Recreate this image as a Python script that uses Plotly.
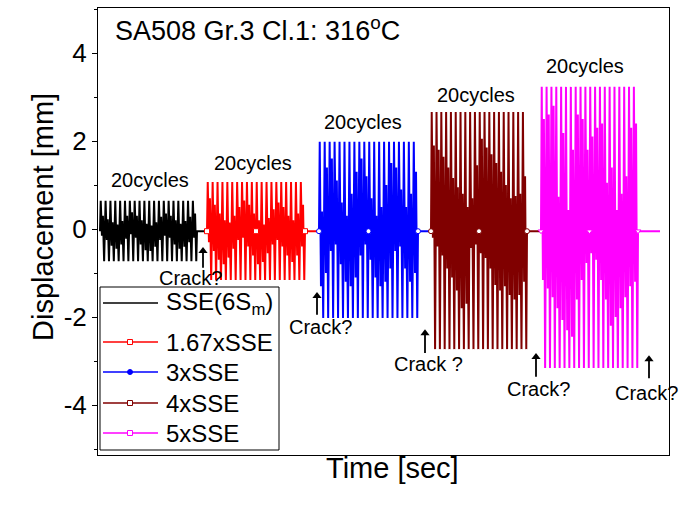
import plotly.graph_objects as go

# ---------------- data ----------------
series_names = ["SSE(6S<sub>m</sub>)", "1.67xSSE", "3xSSE", "4xSSE", "5xSSE"]
colors = ["#000000", "#FF0000", "#0000FF", "#800000", "#FF00FF"]
marker_symbols = [None, "square", "circle", "circle", "triangle-down"]

# block timing (arbitrary time units, x axis has no tick labels)
block_start = [2, 109, 221, 333, 443]
block_end = [99, 207, 320, 429, 540]
tail_end = [108, 220, 332, 442, 562]

peak_top = [0.64, 1.07, 1.98, 2.66, 3.23]
peak_bot = [-0.73, -1.16, -2.02, -2.73, -3.16]
zero_level = -0.05

black_hi = [0.30, 0.22, 0.15, 0.10, 0.18, 0.30, 0.38, 0.30, 0.20, 0.12, 0.08, 0.15, 0.28, 0.35, 0.30, 0.20, 0.12, 0.18, 0.28, 0.35]
black_lo = [0.15, 0.25, 0.38, 0.45, 0.35, 0.22, 0.12, 0.20, 0.35, 0.48, 0.50, 0.40, 0.25, 0.15, 0.20, 0.35, 0.45, 0.40, 0.30, 0.20]
red_hi = [0.70, 0.55, 0.35, 0.20, 0.15, 0.30, 0.50, 0.65, 0.55, 0.35, 0.20, 0.10, 0.25, 0.45, 0.60, 0.50, 0.30, 0.20, 0.35, 0.55]
red_lo = [0.30, 0.50, 0.70, 0.80, 0.65, 0.45, 0.25, 0.20, 0.40, 0.60, 0.80, 0.75, 0.55, 0.35, 0.25, 0.40, 0.60, 0.75, 0.60, 0.40]
blue_hi = [0.40, 1.40, 1.60, 1.10, 0.60, 0.30, 0.80, 1.30, 1.60, 1.20, 0.70, 0.30, 0.50, 1.00, 1.50, 1.40, 0.90, 0.50, 0.80, 1.30]
blue_lo = [1.30, 1.00, 0.50, 0.35, 0.80, 1.20, 1.30, 1.10, 0.60, 0.35, 0.70, 1.10, 1.30, 1.20, 0.90, 0.50, 0.40, 0.90, 1.20, 1.00]
brown_hi = [1.90, 1.80, 1.64, 1.40, 1.16, 0.95, 0.80, 0.50, 0.70, 1.45, 2.05, 1.85, 1.70, 1.50, 1.30, 1.00, 0.70, 0.75, 0.80, 1.20]
brown_lo = [0.20, 0.40, 0.60, 0.90, 1.10, 1.40, 1.80, 1.70, 0.43, 0.35, 0.55, 0.66, 0.90, 1.27, 1.40, 1.30, 1.50, 1.60, 1.50, 1.20]
magenta_hi = [2.50, 2.60, 2.80, 0.73, 2.18, 0.43, 1.80, 2.60, 2.50, 1.80, 2.10, 2.30, 2.40, 1.05, 1.40, 0.43, 0.80, 1.20, 2.30, 2.40]
magenta_lo = [1.16, 1.35, 1.55, 1.80, 2.07, 2.30, 2.45, 1.60, 1.16, 0.77, 0.55, 0.70, 1.16, 1.60, 2.20, 2.00, 1.80, 1.55, 1.30, 1.20]

inner_hi = [black_hi, red_hi, blue_hi, brown_hi, magenta_hi]
inner_lo = [black_lo, red_lo, blue_lo, brown_lo, magenta_lo]

y_ticks = [-4, -2, 0, 2, 4]
y_tick_labels = ["-4", "-2", "0", "2", "4"]

cycles_text = "20cycles"
cycles_x = [52, 155, 265, 378, 487]
cycles_y = [1.11, 1.50, 2.43, 3.05, 3.70]

crack_text = ["Crack?", "Crack?", "Crack ?", "Crack?", "Crack?"]
crack_label_x = [92, 222, 330.5, 440.5, 548.5]
crack_label_y = [-1.11, -2.23, -3.07, -3.64, -3.73]
crack_arrow_x = [105, 219, 327, 438, 551]
crack_arrow_head_y = [-0.43, -1.45, -2.30, -2.84, -2.89]
crack_arrow_tail_y = [-0.88, -1.95, -2.82, -3.36, -3.39]

title_text = "SA508 Gr.3 Cl.1: 316<sup>o</sup>C"

FONT = "Liberation Sans, Arial, sans-serif"

# ---------------- layout geometry ----------------
W, H = 681, 507
L, R, T, B = 98, 12, 8, 52
X0, X1 = 0, 571
Y0, Y1 = -226 / 44, 221 / 44


def px2x(px):
    return X0 + (px - L) / (W - L - R) * (X1 - X0)


def py2y(py):
    return Y1 - (py - T) / (H - T - B) * (Y1 - Y0)


fig = go.Figure()

# ---------------- waveforms ----------------
for k in range(5):
    hi, lo = inner_hi[k], inner_lo[k]
    n = len(hi)
    p = (block_end[k] - block_start[k]) / n
    t = [block_start[k]]
    y = [zero_level]
    mk_t = [block_start[k]]
    for i in range(n):
        t0 = block_start[k] + i * p
        if i == n // 2:
            t.append(t0)
            y.append(zero_level)
            mk_t.append(t0)
        t += [t0 + 0.15 * p, t0 + 0.4 * p, t0 + 0.6 * p, t0 + 0.85 * p]
        y += [peak_top[k], -lo[i], hi[i], peak_bot[k]]
    t += [block_end[k], tail_end[k]]
    y += [zero_level, zero_level]
    mk_t.append(block_end[k])
    fig.add_trace(go.Scatter(x=t, y=y, mode="lines",
                             line=dict(color=colors[k], width=2),
                             showlegend=False, hoverinfo="skip"))
    if marker_symbols[k]:
        fig.add_trace(go.Scatter(x=mk_t, y=[zero_level] * len(mk_t), mode="markers",
                                 marker=dict(symbol=marker_symbols[k], size=5, color="white",
                                             line=dict(color=colors[k], width=1)),
                                 showlegend=False, hoverinfo="skip"))

annotations = []
shapes = []

# title
annotations.append(dict(x=px2x(113), y=py2y(29), xref="x", yref="y", text=title_text,
                        showarrow=False, xanchor="left", yanchor="middle",
                        font=dict(family=FONT, size=27, color="black")))

for cx, cy in zip(cycles_x, cycles_y):
    annotations.append(dict(x=cx, y=cy, xref="x", yref="y", text=cycles_text, showarrow=False,
                            font=dict(family=FONT, size=20, color="black")))

for txt, lx, ly in zip(crack_text, crack_label_x, crack_label_y):
    annotations.append(dict(x=lx, y=ly, xref="x", yref="y", text=txt, showarrow=False,
                            font=dict(family=FONT, size=20, color="black")))

# crack arrows: shafts as line shapes, heads as triangle markers
for ax_, hy, ty in zip(crack_arrow_x, crack_arrow_head_y, crack_arrow_tail_y):
    shapes.append(dict(type="line", xref="x", yref="y", x0=ax_, x1=ax_, y0=ty, y1=hy - 0.05,
                       line=dict(color="black", width=1.8)))
fig.add_trace(go.Scatter(x=crack_arrow_x, y=[h - 0.07 for h in crack_arrow_head_y], mode="markers",
                         cliponaxis=False,
                         marker=dict(symbol="triangle-up", size=8, color="black",
                                     line=dict(width=0)),
                         showlegend=False, hoverinfo="skip"))

# axis titles
annotations.append(dict(x=(25 - L) / (W - L - R), y=(H - B - 217) / (H - T - B), xref="paper", yref="paper",
                        text="Displacement [mm]", textangle=-90, showarrow=False,
                        font=dict(family=FONT, size=29, color="black")))
annotations.append(dict(x=(392 - L) / (W - L - R), y=(H - B - 486) / (H - T - B), xref="paper", yref="paper",
                        text="Time [sec]", showarrow=False,
                        font=dict(family=FONT, size=29, color="black")))

# custom legend
shapes.append(dict(type="rect", xref="x", yref="y", x0=px2x(100), x1=px2x(279), y0=py2y(450), y1=py2y(287),
                   line=dict(color="black", width=1), fillcolor="white", layer="below"))
legend_rows = [303, 342, 372, 403, 433]
legend_marker_symbols = [None, "square", "circle", "square", "square"]
for k, ry in enumerate(legend_rows):
    shapes.append(dict(type="line", xref="x", yref="y", x0=px2x(103), x1=px2x(158), y0=py2y(ry), y1=py2y(ry),
                       line=dict(color=colors[k], width=1.5), layer="below"))
    annotations.append(dict(x=px2x(164), y=py2y(ry), xref="x", yref="y", text=series_names[k],
                            showarrow=False, xanchor="left", yanchor="middle",
                            font=dict(family=FONT, size=24, color="black")))
    if legend_marker_symbols[k]:
        fig.add_trace(go.Scatter(x=[px2x(130)], y=[py2y(ry)], mode="markers", cliponaxis=False,
                                 marker=dict(symbol=legend_marker_symbols[k], size=5,
                                             color=colors[k] if k == 2 else "white",
                                             line=dict(color=colors[k], width=1)),
                                 showlegend=False, hoverinfo="skip"))

fig.update_layout(
    width=W, height=H,
    margin=dict(l=L, r=R, t=T, b=B),
    plot_bgcolor="white", paper_bgcolor="white",
    showlegend=False,
    annotations=annotations, shapes=shapes,
    xaxis=dict(range=[X0, X1], showticklabels=False, ticks="", showgrid=False, zeroline=False,
               showline=True, linecolor="black", linewidth=1, mirror=True),
    yaxis=dict(range=[Y0, Y1], tickmode="array", tickvals=y_ticks, ticktext=y_tick_labels,
               ticks="outside", ticklen=5, tickcolor="black", showgrid=False, zeroline=False,
               showline=True, linecolor="black", linewidth=1, mirror=True,
               tickfont=dict(family=FONT, size=26, color="black"),
               minor=dict(dtick=1, ticks="outside", ticklen=3, tickcolor="black")),
)

fig.write_html("out.html")
